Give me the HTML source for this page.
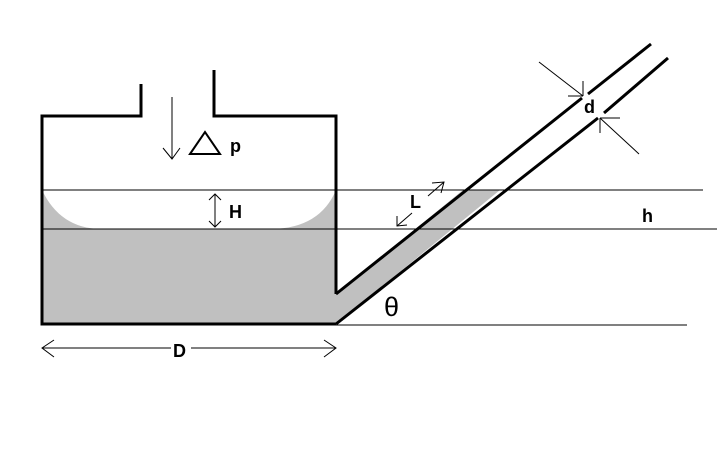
<!DOCTYPE html>
<html><head><style>html,body{margin:0;padding:0;background:#fff;}svg{display:block}</style></head>
<body>
<svg width="720" height="450" viewBox="0 0 720 450" xmlns="http://www.w3.org/2000/svg" font-family="Liberation Sans, sans-serif">
<rect width="720" height="450" fill="#fff"/>
<path d="M42,190 Q60,228 100,229 L272,229 Q320,228 336,190 L336,324 L42,324 Z" fill="#c0c0c0"/>
<polygon points="336,294 463,190 500,190 336,324" fill="#c0c0c0"/>
<g stroke="#000" stroke-width="1" fill="none">
<line x1="42" y1="190" x2="703" y2="190"/>
<line x1="42" y1="229" x2="717" y2="229"/>
<line x1="336" y1="325" x2="687" y2="325"/>
<line x1="172" y1="97" x2="172" y2="159"/>
<polyline points="163,148 172,159 180,148"/>
<line x1="215" y1="194" x2="215" y2="227"/>
<polyline points="209,200 215,194 221,200"/>
<polyline points="209,221 215,227 221,221"/>
<line x1="42" y1="348" x2="336" y2="348"/>
<polyline points="54,340 42,348 54,357"/>
<polyline points="324,340 336,348 324,357"/>
<line x1="397" y1="226" x2="412" y2="213"/>
<polyline points="397,216 397,226 407,225"/>
<line x1="428" y1="196" x2="444" y2="182"/>
<polyline points="432,183 444,182 441,193"/>
<line x1="539" y1="62" x2="583" y2="96"/>
<line x1="568" y1="96" x2="583" y2="96"/>
<line x1="583" y1="81" x2="583" y2="96"/>
<line x1="639" y1="154" x2="600" y2="118"/>
<line x1="600" y1="118" x2="620" y2="118"/>
<line x1="600" y1="118" x2="600" y2="133"/>
</g>
<g stroke="#000" stroke-width="3" fill="none">
<polyline points="141,84 141,116 42,116 42,324 336,324"/>
<polyline points="214,70 214,116 336,116 336,294"/>
<line x1="336" y1="294" x2="582" y2="98"/>
<line x1="588" y1="94" x2="651" y2="44"/>
<line x1="336" y1="324" x2="598" y2="118"/>
<line x1="604" y1="113" x2="668" y2="58"/>
<polygon points="190,154 205,132 220,154" stroke-width="2"/>
</g>
<rect x="171" y="340" width="20" height="16" fill="#fff"/>
<g font-weight="bold" font-size="18" fill="#000">
<text x="230" y="152">p</text>
<text x="229" y="218">H</text>
<text x="173" y="357">D</text>
<text x="410" y="208">L</text>
<text x="642" y="222">h</text>
<text x="584" y="113">d</text>
</g>
<text x="384" y="316" font-size="27" fill="#000">θ</text>
</svg>
</body></html>
